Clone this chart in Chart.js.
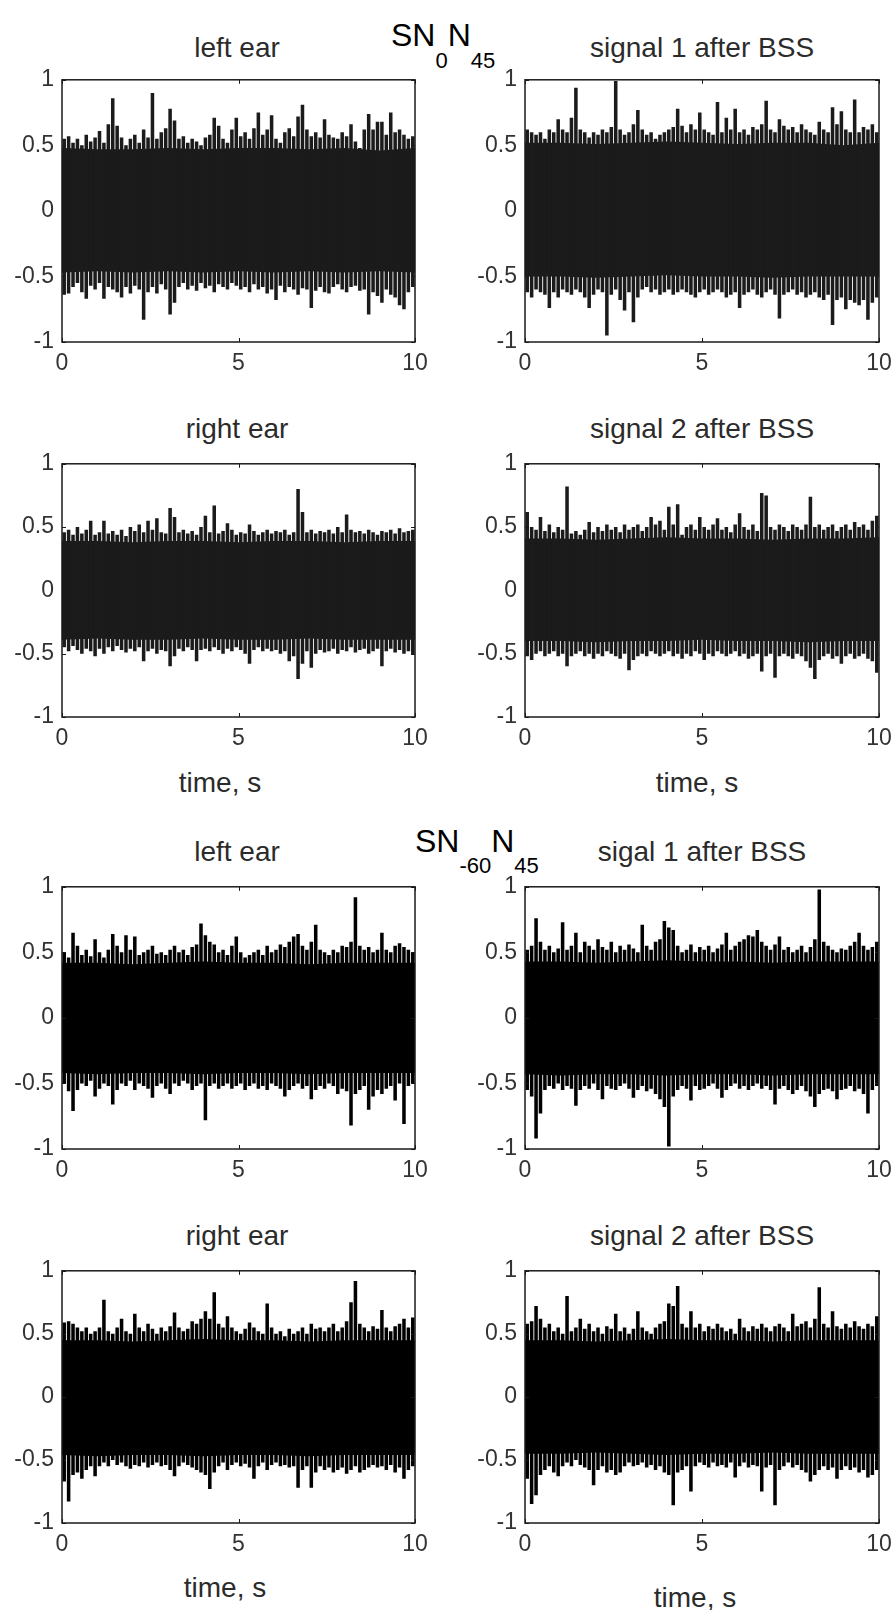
<!DOCTYPE html>
<html>
<head>
<meta charset="utf-8">
<script src="https://cdn.jsdelivr.net/npm/chart.js@4/dist/chart.umd.min.js"></script>
<style>
html,body{margin:0;padding:0;background:#fff;}
body{width:895px;height:1610px;position:relative;overflow:hidden;font-family:"Liberation Sans",Arial,sans-serif;}
.t{position:absolute;font-size:28px;line-height:28px;color:#2b2b2b;white-space:nowrap;transform:translateX(-50%);}
.sup{position:absolute;font-size:32px;line-height:32px;color:#000;white-space:nowrap;}
.sb{font-size:22px;position:relative;}
</style>
</head>
<body>
<div class="sup" style="left:391px;top:19px;">SN<span class="sb" style="top:22px">0</span>N<span class="sb" style="top:22px">45</span></div>
<div class="sup" style="left:415px;top:825px;">SN<span class="sb" style="top:21px">-60</span>N<span class="sb" style="top:21px">45</span></div>

<div class="t" style="left:237px;top:34px;">left ear</div>
<div class="t" style="left:702px;top:34px;">signal 1 after BSS</div>
<div class="t" style="left:237px;top:415px;">right ear</div>
<div class="t" style="left:702px;top:415px;">signal 2 after BSS</div>
<div class="t" style="left:220px;top:769px;">time, s</div>
<div class="t" style="left:697px;top:769px;">time, s</div>
<div class="t" style="left:237px;top:838px;">left ear</div>
<div class="t" style="left:702px;top:838px;">sigal 1 after BSS</div>
<div class="t" style="left:237px;top:1222px;">right ear</div>
<div class="t" style="left:702px;top:1222px;">signal 2 after BSS</div>
<div class="t" style="left:225px;top:1574px;">time, s</div>
<div class="t" style="left:695px;top:1584px;">time, s</div>

<script>
// ---- axis ticks ----
const timeTicks = [0, 5, 10];
const timeLabels = ['0', '5', '10'];
const ampTicks = [-1, -0.5, 0, 0.5, 1];
const ampLabels = ['-1', '-0.5', '0', '0.5', '1'];
const coreTime = [0, 1, 2, 3, 4, 5, 6, 7, 8, 9, 10];

// ---- SN0N45 : left ear (max / min of the signal in each 0.125 s bin) ----
const sn0LeftHi = [.55,.57,.52,.55,.50,.58,.53,.56,.61,.52, .66,.86,.65,.56,.50,.55,.58,.52,.62,.56, .90,.55,.60,.63,.78,.69,.55,.57,.52,.55, .53,.50,.56,.58,.71,.65,.55,.52,.62,.71, .57,.60,.55,.63,.75,.58,.62,.73,.55,.52, .60,.63,.57,.72,.81,.62,.57,.60,.56,.70, .58,.56,.55,.60,.57,.66,.53,.48,.62,.74, .62,.68,.68,.58,.75,.60,.62,.58,.55,.57];
const sn0LeftLo = [-.64,-.63,-.58,-.55,-.62,-.67,-.57,-.60,-.55,-.67, -.58,-.60,-.62,-.66,-.58,-.63,-.57,-.60,-.83,-.62, -.58,-.63,-.56,-.60,-.79,-.70,-.58,-.55,-.60,-.57, -.61,-.55,-.59,-.57,-.62,-.56,-.58,-.60,-.55,-.57, -.60,-.58,-.62,-.56,-.60,-.58,-.63,-.60,-.68,-.57, -.62,-.58,-.60,-.64,-.59,-.60,-.74,-.61,-.58,-.62, -.63,-.58,-.56,-.60,-.62,-.58,-.57,-.61,-.60,-.79, -.62,-.65,-.70,-.60,-.64,-.66,-.72,-.75,-.62,-.58];
const sn0LeftCoreTop = [.48,.47,.47,.48,.47,.48,.48,.47,.48,.46,.48];
const sn0LeftCoreBot = [-.47,-.46,-.47,-.46,-.47,-.46,-.47,-.46,-.47,-.46,-.47];

// ---- SN0N45 : signal 1 after BSS ----
const sn0Sig1Hi = [.62,.60,.58,.60,.55,.62,.60,.70,.62,.60, .71,.94,.62,.60,.56,.60,.58,.62,.60,.64, .99,.62,.58,.60,.66,.77,.62,.58,.60,.55, .58,.60,.62,.64,.78,.65,.60,.66,.62,.75, .62,.60,.58,.83,.60,.71,.62,.78,.60,.62, .58,.64,.62,.66,.84,.62,.60,.70,.65,.62, .64,.60,.66,.62,.60,.58,.68,.62,.60,.79, .66,.76,.62,.60,.85,.60,.64,.62,.66,.60];
const sn0Sig1Lo = [-.62,-.66,-.60,-.62,-.64,-.74,-.62,-.66,-.60,-.62, -.64,-.60,-.62,-.66,-.74,-.64,-.60,-.62,-.95,-.64, -.60,-.68,-.76,-.62,-.85,-.66,-.60,-.58,-.62,-.60, -.64,-.62,-.60,-.64,-.62,-.60,-.62,-.64,-.66,-.62, -.60,-.64,-.62,-.60,-.62,-.66,-.64,-.62,-.74,-.64, -.62,-.60,-.64,-.66,-.62,-.60,-.64,-.82,-.64,-.62, -.60,-.64,-.62,-.66,-.64,-.62,-.66,-.68,-.64,-.87, -.68,-.66,-.75,-.68,-.70,-.72,-.68,-.83,-.70,-.66];
const sn0Sig1CoreTop = [.52,.52,.51,.52,.53,.52,.51,.52,.52,.50,.52];
const sn0Sig1CoreBot = [-.50,-.50,-.51,-.50,-.49,-.50,-.50,-.51,-.50,-.50,-.50];

// ---- SN0N45 : right ear ----
const sn0RightHi = [.46,.48,.44,.50,.45,.48,.55,.44,.46,.55, .45,.47,.44,.48,.43,.50,.47,.52,.46,.55, .48,.57,.46,.45,.65,.58,.46,.48,.45,.47, .44,.50,.59,.46,.67,.45,.47,.53,.48,.44, .46,.45,.52,.47,.44,.46,.48,.45,.47,.46, .48,.44,.46,.80,.62,.46,.48,.45,.47,.46, .48,.45,.50,.46,.60,.48,.46,.47,.45,.48, .46,.44,.47,.46,.48,.45,.49,.46,.47,.48];
const sn0RightLo = [-.45,-.48,-.44,-.47,-.50,-.46,-.48,-.52,-.46,-.50, -.45,-.48,-.44,-.47,-.49,-.46,-.48,-.45,-.56,-.48, -.46,-.50,-.47,-.48,-.60,-.52,-.46,-.48,-.45,-.47, -.56,-.47,-.46,-.48,-.45,-.47,-.50,-.46,-.48,-.45, -.47,-.50,-.58,-.47,-.45,-.48,-.46,-.48,-.47,-.50, -.48,-.56,-.52,-.70,-.58,-.48,-.61,-.50,-.47,-.49, -.48,-.46,-.50,-.47,-.48,-.45,-.49,-.47,-.46,-.50, -.48,-.46,-.60,-.48,-.46,-.49,-.47,-.50,-.48,-.51];
const sn0RightCoreTop = [.39,.39,.38,.39,.39,.38,.39,.39,.38,.39,.39];
const sn0RightCoreBot = [-.39,-.38,-.39,-.39,-.38,-.39,-.39,-.38,-.39,-.39,-.39];

// ---- SN0N45 : signal 2 after BSS ----
const sn0Sig2Hi = [.62,.50,.48,.58,.47,.52,.46,.50,.48,.82, .45,.47,.44,.48,.54,.46,.50,.47,.52,.48, .50,.46,.52,.48,.50,.52,.47,.50,.58,.52, .55,.48,.66,.52,.68,.44,.50,.52,.48,.58, .50,.48,.52,.57,.48,.50,.46,.52,.61,.50, .48,.52,.47,.77,.75,.50,.48,.52,.50,.47, .52,.50,.48,.52,.74,.50,.52,.48,.50,.52, .47,.50,.52,.48,.54,.50,.52,.48,.55,.59];
const sn0Sig2Lo = [-.52,-.55,-.50,-.48,-.52,-.50,-.48,-.52,-.50,-.60, -.52,-.50,-.48,-.52,-.50,-.54,-.50,-.52,-.48,-.50, -.52,-.54,-.50,-.63,-.55,-.52,-.50,-.52,-.48,-.50, -.52,-.50,-.48,-.52,-.50,-.54,-.50,-.52,-.48,-.50, -.55,-.50,-.52,-.48,-.50,-.52,-.50,-.48,-.52,-.50, -.54,-.52,-.50,-.64,-.52,-.50,-.69,-.52,-.50,-.52, -.54,-.50,-.52,-.56,-.61,-.70,-.55,-.52,-.50,-.54, -.52,-.58,-.52,-.50,-.54,-.52,-.50,-.54,-.56,-.65];
const sn0Sig2CoreTop = [.41,.41,.40,.41,.42,.41,.41,.40,.41,.41,.42];
const sn0Sig2CoreBot = [-.40,-.40,-.41,-.40,-.40,-.39,-.40,-.40,-.41,-.40,-.40];

// ---- SN-60N45 : left ear ----
const sn60LeftHi = [.50,.46,.65,.55,.48,.52,.47,.60,.50,.46, .52,.64,.55,.50,.63,.52,.62,.48,.50,.52, .55,.49,.50,.48,.52,.55,.50,.52,.48,.54, .56,.72,.63,.58,.56,.50,.52,.48,.55,.62, .50,.46,.48,.50,.52,.48,.55,.50,.52,.56, .54,.58,.62,.64,.55,.52,.58,.71,.52,.50, .48,.52,.50,.55,.54,.58,.92,.55,.52,.54, .50,.52,.65,.52,.50,.55,.57,.54,.52,.50];
const sn60LeftLo = [-.50,-.56,-.71,-.55,-.50,-.52,-.48,-.60,-.54,-.50, -.52,-.66,-.55,-.50,-.52,-.48,-.55,-.50,-.52,-.54, -.61,-.52,-.50,-.54,-.58,-.50,-.52,-.48,-.50,-.55, -.52,-.50,-.78,-.52,-.50,-.54,-.52,-.50,-.54,-.52, -.50,-.55,-.52,-.50,-.54,-.52,-.55,-.50,-.52,-.54, -.60,-.55,-.52,-.50,-.54,-.52,-.62,-.55,-.52,-.54, -.50,-.52,-.58,-.54,-.56,-.82,-.58,-.55,-.52,-.70, -.60,-.55,-.58,-.54,-.52,-.63,-.50,-.81,-.52,-.50];
const sn60LeftCoreTop = [.42,.42,.41,.42,.43,.42,.42,.41,.42,.42,.42];
const sn60LeftCoreBot = [-.42,-.43,-.42,-.42,-.43,-.42,-.42,-.43,-.42,-.42,-.42];

// ---- SN-60N45 : sigal 1 after BSS ----
const sn60Sig1Hi = [.52,.55,.76,.58,.52,.55,.50,.53,.73,.52, .55,.65,.50,.58,.55,.52,.60,.54,.52,.58, .50,.55,.52,.56,.53,.50,.71,.55,.52,.58, .60,.74,.69,.67,.55,.50,.52,.56,.50,.54, .52,.55,.50,.53,.56,.65,.52,.55,.58,.60, .63,.62,.67,.58,.55,.52,.56,.62,.52,.54, .50,.52,.55,.50,.54,.60,.98,.58,.55,.52, .50,.53,.52,.55,.58,.65,.55,.52,.54,.58];
const sn60Sig1Lo = [-.55,-.60,-.92,-.73,-.55,-.52,-.54,-.50,-.55,-.52, -.54,-.67,-.55,-.52,-.54,-.50,-.55,-.62,-.52,-.54, -.55,-.52,-.50,-.54,-.61,-.55,-.52,-.56,-.54,-.58, -.62,-.68,-.98,-.60,-.55,-.52,-.54,-.63,-.52,-.55, -.54,-.52,-.50,-.54,-.61,-.55,-.52,-.50,-.54,-.52, -.55,-.52,-.50,-.54,-.52,-.55,-.66,-.54,-.52,-.55, -.58,-.55,-.52,-.56,-.60,-.68,-.58,-.55,-.54,-.56, -.62,-.55,-.54,-.52,-.56,-.54,-.58,-.73,-.55,-.52];
const sn60Sig1CoreTop = [.43,.43,.42,.43,.44,.43,.43,.42,.43,.43,.43];
const sn60Sig1CoreBot = [-.43,-.44,-.43,-.43,-.44,-.43,-.43,-.44,-.43,-.43,-.43];

// ---- SN-60N45 : right ear ----
const sn60RightHi = [.59,.60,.58,.55,.52,.55,.50,.52,.55,.77, .52,.50,.55,.62,.52,.50,.66,.55,.52,.58, .54,.50,.55,.52,.56,.67,.55,.52,.54,.60, .58,.62,.68,.62,.83,.58,.55,.64,.55,.52, .50,.54,.59,.55,.52,.50,.74,.55,.50,.52, .48,.54,.50,.52,.55,.50,.58,.54,.55,.52, .55,.58,.52,.55,.60,.75,.92,.58,.55,.52, .56,.54,.69,.55,.52,.56,.58,.62,.55,.63];
const sn60RightLo = [-.67,-.83,-.62,-.60,-.65,-.58,-.55,-.63,-.55,-.52, -.55,-.50,-.54,-.52,-.55,-.57,-.54,-.55,-.52,-.56, -.54,-.52,-.55,-.54,-.58,-.63,-.55,-.52,-.54,-.56, -.58,-.60,-.62,-.73,-.60,-.55,-.52,-.58,-.54,-.52, -.55,-.53,-.56,-.65,-.55,-.52,-.58,-.54,-.52,-.55, -.54,-.56,-.55,-.72,-.58,-.55,-.72,-.60,-.55,-.58, -.56,-.60,-.58,-.56,-.61,-.58,-.55,-.60,-.58,-.56, -.54,-.56,-.55,-.58,-.54,-.60,-.56,-.65,-.58,-.55];
const sn60RightCoreTop = [.45,.45,.44,.45,.46,.45,.45,.44,.45,.45,.45];
const sn60RightCoreBot = [-.46,-.47,-.46,-.46,-.47,-.46,-.46,-.47,-.46,-.46,-.46];

// ---- SN-60N45 : signal 2 after BSS ----
const sn60Sig2Hi = [.58,.60,.72,.62,.55,.58,.52,.55,.50,.80, .52,.55,.62,.54,.58,.52,.55,.50,.56,.54, .66,.52,.55,.50,.54,.68,.55,.52,.50,.55, .58,.60,.74,.72,.88,.58,.55,.68,.55,.58, .52,.56,.54,.58,.55,.52,.54,.50,.62,.55, .52,.56,.54,.58,.55,.52,.56,.58,.55,.52, .66,.56,.58,.60,.55,.62,.87,.58,.55,.68, .56,.54,.58,.55,.60,.56,.54,.58,.56,.64];
const sn60Sig2Lo = [-.65,-.85,-.78,-.62,-.58,-.55,-.60,-.63,-.55,-.52, -.55,-.50,-.54,-.56,-.58,-.70,-.58,-.55,-.60,-.58, -.62,-.60,-.55,-.52,-.55,-.54,-.52,-.56,-.54,-.58, -.55,-.60,-.62,-.86,-.60,-.58,-.55,-.75,-.55,-.52, -.54,-.56,-.52,-.55,-.54,-.56,-.52,-.64,-.55,-.52, -.56,-.54,-.55,-.75,-.56,-.54,-.86,-.58,-.55,-.52, -.56,-.54,-.58,-.60,-.67,-.62,-.58,-.55,-.58,-.56, -.65,-.58,-.55,-.58,-.56,-.60,-.58,-.64,-.62,-.58];
const sn60Sig2CoreTop = [.45,.45,.44,.45,.46,.45,.45,.44,.45,.45,.45];
const sn60Sig2CoreBot = [-.45,-.45,-.44,-.45,-.46,-.45,-.45,-.44,-.45,-.45,-.45];

// ---- layout of the eight axes (pixels) ----
const panels = [
  {hi: sn0LeftHi,  lo: sn0LeftLo,  ct: sn0LeftCoreTop,  cb: sn0LeftCoreBot,  left: 62,  top: 73,   w: 353, h: 269, color: '#1b1b1b'},
  {hi: sn0Sig1Hi,  lo: sn0Sig1Lo,  ct: sn0Sig1CoreTop,  cb: sn0Sig1CoreBot,  left: 525, top: 73,   w: 354, h: 269, color: '#1b1b1b'},
  {hi: sn0RightHi, lo: sn0RightLo, ct: sn0RightCoreTop, cb: sn0RightCoreBot, left: 62,  top: 457,  w: 353, h: 260, color: '#1b1b1b'},
  {hi: sn0Sig2Hi,  lo: sn0Sig2Lo,  ct: sn0Sig2CoreTop,  cb: sn0Sig2CoreBot,  left: 525, top: 457,  w: 354, h: 260, color: '#1b1b1b'},
  {hi: sn60LeftHi, lo: sn60LeftLo, ct: sn60LeftCoreTop, cb: sn60LeftCoreBot, left: 62,  top: 880,  w: 353, h: 269, color: '#000'},
  {hi: sn60Sig1Hi, lo: sn60Sig1Lo, ct: sn60Sig1CoreTop, cb: sn60Sig1CoreBot, left: 525, top: 880,  w: 354, h: 269, color: '#000'},
  {hi: sn60RightHi,lo: sn60RightLo,ct: sn60RightCoreTop,cb: sn60RightCoreBot,left: 62,  top: 1264, w: 353, h: 259, color: '#000'},
  {hi: sn60Sig2Hi, lo: sn60Sig2Lo, ct: sn60Sig2CoreTop, cb: sn60Sig2CoreBot, left: 525, top: 1264, w: 354, h: 259, color: '#000'}
];

// each bin drawn as a floating bar from its minimum to its maximum, at the bin centre time
function bins(hi, lo) {
  const dt = 10 / hi.length;
  return hi.map((h, i) => ({x: (i + 0.5) * dt, y: [lo[i], h]}));
}
function core(vals) { return coreTime.map((t, i) => ({x: t, y: vals[i]})); }

const frame = {
  id: 'frame',
  afterDatasetsDraw(chart) {
    const {ctx, chartArea: a, scales: {x, y}} = chart;
    ctx.save();
    ctx.strokeStyle = '#1a1a1a';
    ctx.lineWidth = 1.5;
    ctx.strokeRect(a.left, a.top, a.right - a.left, a.bottom - a.top);
    ctx.beginPath();
    x.ticks.forEach(t => {
      const px = Math.round(x.getPixelForValue(t.value)) + 0.5;
      ctx.moveTo(px, a.bottom); ctx.lineTo(px, a.bottom - 4);
      ctx.moveTo(px, a.top); ctx.lineTo(px, a.top + 4);
    });
    y.ticks.forEach(t => {
      const py = Math.round(y.getPixelForValue(t.value)) + 0.5;
      ctx.moveTo(a.left, py); ctx.lineTo(a.left + 4, py);
      ctx.moveTo(a.right, py); ctx.lineTo(a.right - 4, py);
    });
    ctx.lineWidth = 1;
    ctx.stroke();
    ctx.restore();
  }
};

Chart.defaults.font.family = '"Liberation Sans", Arial, sans-serif';

panels.forEach(p => {
  const cv = document.createElement('canvas');
  const W = p.w + 85, H = p.h + 55;
  cv.width = W; cv.height = H;
  cv.style.cssText = `position:absolute;left:${p.left - 60}px;top:${p.top - 15}px;width:${W}px;height:${H}px;`;
  document.body.appendChild(cv);
  new Chart(cv, {
    type: 'line',
    data: {
      datasets: [
        {data: core(p.ct), fill: '+1', backgroundColor: p.color, borderWidth: 0, pointRadius: 0, order: 2},
        {data: core(p.cb), fill: false, borderWidth: 0, pointRadius: 0, order: 3},
        {type: 'bar', data: bins(p.hi, p.lo), backgroundColor: p.color, borderWidth: 0,
         barPercentage: 0.8, categoryPercentage: 1, grouped: false, order: 1}
      ]
    },
    options: {
      responsive: false, animation: false, devicePixelRatio: 1,
      layout: {padding: {left: 0, right: 25, top: 15, bottom: 0}},
      plugins: {legend: {display: false}, tooltip: {enabled: false}},
      scales: {
        x: {
          type: 'linear', min: 0, max: 10, offset: false,
          afterBuildTicks: ax => { ax.ticks = timeTicks.map(v => ({value: v})); },
          afterFit: ax => { ax.height = 40; },
          grid: {display: false, drawTicks: false}, border: {display: false},
          ticks: {padding: 8, color: '#333', font: {size: 23}, maxRotation: 0, autoSkip: false,
                  callback: (v, i) => timeLabels[i]}
        },
        y: {
          type: 'linear', min: -1, max: 1,
          afterBuildTicks: ax => { ax.ticks = ampTicks.map(v => ({value: v})); },
          afterFit: ax => { ax.width = 60; },
          grid: {display: false, drawTicks: false}, border: {display: false},
          ticks: {padding: 8, color: '#333', font: {size: 23}, autoSkip: false,
                  callback: (v, i) => ampLabels[i]}
        }
      }
    },
    plugins: [frame]
  });
});
</script>
</body>
</html>
